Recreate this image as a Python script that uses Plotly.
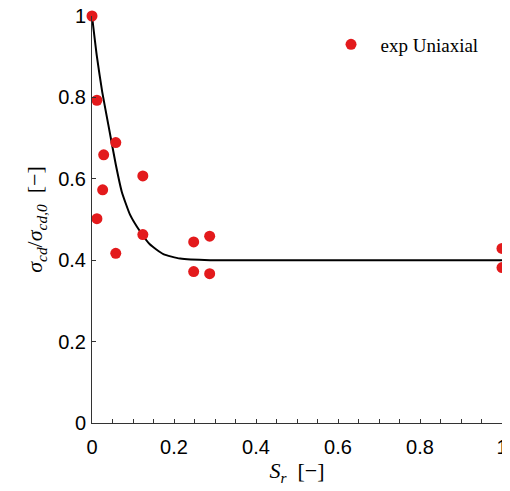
import plotly.graph_objects as go

exp_sr = [0.0, 0.012, 0.058, 0.0285, 0.124, 0.026, 0.012, 0.124, 0.248, 0.287,
          0.058, 0.248, 0.287, 1.0, 1.0]
exp_ratio = [1.0, 0.793, 0.689, 0.659, 0.607, 0.573, 0.502, 0.463, 0.445, 0.459,
             0.417, 0.372, 0.367, 0.429, 0.382]

# Fitted curve
fit_sr = [0.0, 0.012, 0.025, 0.040, 0.058, 0.0724, 0.0927, 0.117, 0.141, 0.174,
          0.215, 0.288, 0.5, 1.0]
fit_ratio = [1.0, 0.90, 0.813, 0.732, 0.635, 0.569, 0.512, 0.471, 0.439, 0.415,
             0.404, 0.400, 0.400, 0.400]

x_ticks = [0, 0.2, 0.4, 0.6, 0.8, 1]
x_labels = ["0", "0.2", "0.4", "0.6", "0.8", "1"]
y_ticks = [0, 0.2, 0.4, 0.6, 0.8, 1]
y_labels = ["0", "0.2", "0.4", "0.6", "0.8", "1"]

fig = go.Figure()
fig.add_trace(go.Scatter(
    x=fit_sr, y=fit_ratio, mode="lines",
    line=dict(color="black", width=2, shape="spline", smoothing=0.5),
    showlegend=False, hoverinfo="skip", cliponaxis=False))
fig.add_trace(go.Scatter(
    x=exp_sr, y=exp_ratio, mode="markers",
    name="\u00a0\u00a0exp Uniaxial",
    marker=dict(color="#E31A1C", size=11), cliponaxis=False))

axis_common = dict(
    range=[0, 1], showgrid=False, zeroline=False, showline=True,
    linecolor="#333333", linewidth=1, ticks="inside", ticklen=4,
    tickcolor="#333333", mirror=False, automargin=False,
    ticklabeloverflow="allow",
    tickfont=dict(family="Liberation Sans, Arial, sans-serif", size=20, color="black"),
)

# the page body adds an 8px offset, so the figure is sized to fit the window
fig.update_layout(
    width=502, height=483,
    margin=dict(l=84, r=8, t=8, b=68),
    plot_bgcolor="white", paper_bgcolor="white",
    xaxis=dict(
        **axis_common, tickvals=x_ticks, ticktext=x_labels, ticklabelstandoff=6,
        minor=dict(ticks="inside", ticklen=4, dtick=0.05, tickcolor="#333333"),
        title=dict(text="<i>S<sub>r</sub></i>  [−]", standoff=4,
                   font=dict(family="Liberation Serif, serif", size=22, color="black")),
    ),
    yaxis=dict(
        **axis_common, tickvals=y_ticks, ticktext=y_labels, ticklabelstandoff=1,
        title=dict(text="<i>σ<sub>cd</sub></i>/<i>σ<sub>cd,0</sub></i>  [−]", standoff=9,
                   font=dict(family="Liberation Serif, serif", size=22, color="black")),
    ),
    legend=dict(x=0.583, y=0.93, xanchor="left", yanchor="middle",
                bgcolor="rgba(0,0,0,0)",
                font=dict(family="Liberation Serif, serif", size=19, color="black")),
)

fig.write_html("out.html")
